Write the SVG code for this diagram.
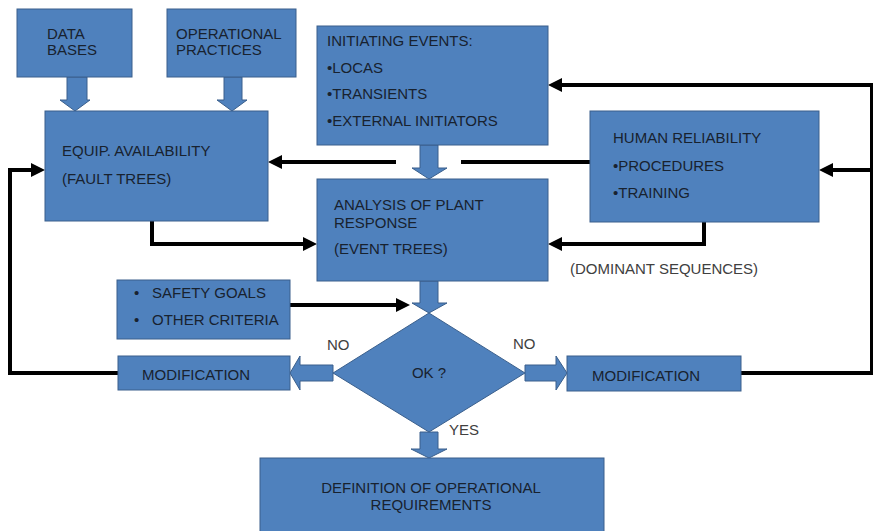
<svg xmlns="http://www.w3.org/2000/svg" width="873" height="531" viewBox="0 0 873 531">
<style>
.box{fill:#4f81bd;stroke:#3a5f8c;stroke-width:1}
.blk{fill:#4f81bd;stroke:#3a5f8c;stroke-width:1}
.t{font-family:"Liberation Sans",Arial,sans-serif;font-size:15px;fill:#18222f}
.lb{font-family:"Liberation Sans",Arial,sans-serif;font-size:15px;fill:#404040}
.c{fill:none;stroke:#000;stroke-width:4}
</style>
<defs>
<marker id="ah" viewBox="0 0 14 14" markerUnits="userSpaceOnUse" markerWidth="14" markerHeight="14" refX="4" refY="7" orient="auto">
<path d="M0,0 L14,7 L0,14 z" fill="#000"/>
</marker>
</defs>
<rect width="873" height="531" fill="#fff"/>

<g id="connectors">
<path class="c" d="M741,373 H872 V85 H558" marker-end="url(#ah)"/>
<path class="c" d="M872,170 H829" marker-end="url(#ah)"/>
<path class="c" d="M118,373 H10 V170 H35" marker-end="url(#ah)"/>
<path class="c" d="M396,162 H278" marker-end="url(#ah)"/>
<path class="c" d="M590,162 H461"/>
<path class="c" d="M152,221 V244 H307" marker-end="url(#ah)"/>
<path class="c" d="M704,222 V244 H558" marker-end="url(#ah)"/>
<path class="c" d="M290,305 H400" marker-end="url(#ah)"/>
<polygon id="blk-db" class="blk" points="67,77 87,77 87,100 90,100 75,111 60,100 67,100"/>
<polygon id="blk-op" class="blk" points="224,77 242,77 242,100 247,100 232,111 217,100 224,100"/>
<polygon id="blk-ie" class="blk" points="420,145 438,145 438,168 447,168 429,179 412,168 420,168"/>
<polygon id="blk-an" class="blk" points="420,281 438,281 438,303 447,303 429,313 412,303 420,303"/>
<polygon id="blk-no-l" class="blk" points="333,365 300,365 300,356 290,373 300,390 300,381 333,381"/>
<polygon id="blk-no-r" class="blk" points="525,365 556,365 556,356 567,373 556,390 556,381 525,381"/>
<polygon id="blk-yes" class="blk" points="420,432 438,432 438,449 447,449 429,458 411,449 420,449"/>
</g>

<g id="data-bases">
<rect class="box" x="17" y="9" width="115" height="68"/>
<text class="t" x="47" y="39">DATA</text>
<text class="t" x="47" y="55">BASES</text>
</g>
<g id="operational-practices">
<rect class="box" x="167" y="9" width="129" height="68"/>
<text class="t" x="176" y="39">OPERATIONAL</text>
<text class="t" x="176" y="55">PRACTICES</text>
</g>
<g id="equip-availability">
<rect class="box" x="45" y="111" width="223" height="110"/>
<text class="t" x="62" y="156">EQUIP. AVAILABILITY</text>
<text class="t" x="62" y="184">(FAULT TREES)</text>
</g>
<g id="initiating-events">
<rect class="box" x="317" y="26" width="231" height="119"/>
<text class="t" x="327" y="46">INITIATING EVENTS:</text>
<text class="t" x="327" y="73">•LOCAS</text>
<text class="t" x="327" y="99">•TRANSIENTS</text>
<text class="t" x="327" y="126">•EXTERNAL INITIATORS</text>
</g>
<g id="analysis">
<rect class="box" x="317" y="179" width="231" height="102"/>
<text class="t" x="334" y="210">ANALYSIS OF PLANT</text>
<text class="t" x="334" y="228">RESPONSE</text>
<text class="t" x="334" y="254">(EVENT TREES)</text>
</g>
<g id="human-reliability">
<rect class="box" x="590" y="111" width="229" height="111"/>
<text class="t" x="613" y="143">HUMAN RELIABILITY</text>
<text class="t" x="613" y="171">•PROCEDURES</text>
<text class="t" x="613" y="198">•TRAINING</text>
</g>
<g id="dominant-sequences">
<text class="lb" x="570" y="274">(DOMINANT SEQUENCES)</text>
</g>
<g id="safety-goals">
<rect class="box" x="117" y="280" width="173" height="59"/>
<text class="t" x="134" y="298">•</text>
<text class="t" x="152" y="298">SAFETY GOALS</text>
<text class="t" x="134" y="325">•</text>
<text class="t" x="152" y="325">OTHER CRITERIA</text>
</g>
<g id="ok-decision">
<polygon class="box" points="429,313 525,373 429,432 333,373"/>
<text class="t" x="429" y="378" text-anchor="middle">OK ?</text>
<text class="lb" x="327" y="350">NO</text>
<text class="lb" x="513" y="349">NO</text>
<text class="lb" x="449" y="435">YES</text>
</g>
<g id="modification-left">
<rect class="box" x="118" y="356" width="172" height="34"/>
<text class="t" x="142" y="380">MODIFICATION</text>
</g>
<g id="modification-right">
<rect class="box" x="567" y="356" width="174" height="35"/>
<text class="t" x="592" y="381">MODIFICATION</text>
</g>
<g id="definition">
<rect class="box" x="260" y="458" width="344" height="80"/>
<text class="t" x="431" y="493" text-anchor="middle">DEFINITION OF OPERATIONAL</text>
<text class="t" x="431" y="510" text-anchor="middle">REQUIREMENTS</text>
</g>
</svg>
